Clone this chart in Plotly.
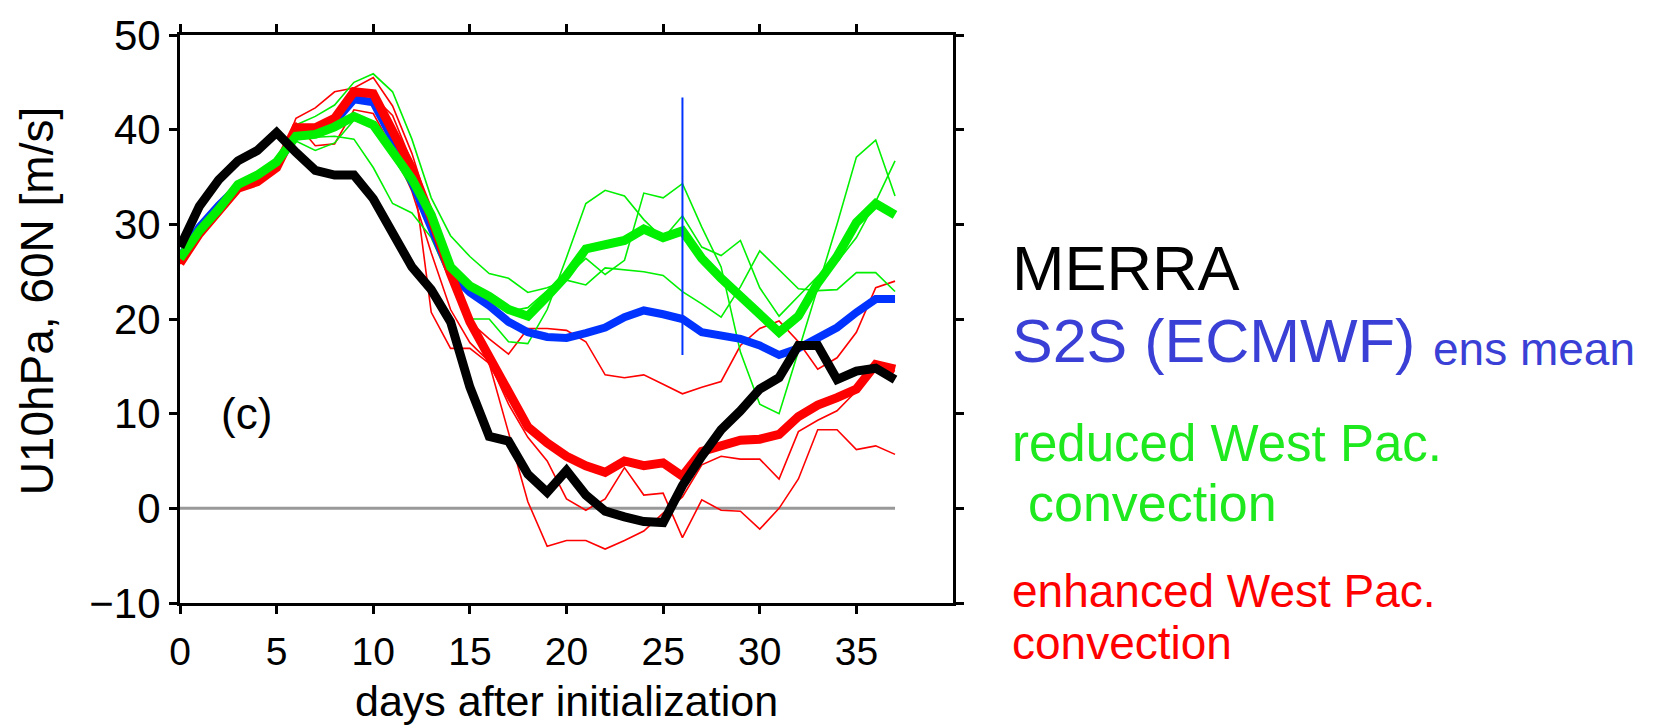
import plotly.graph_objects as go

# ---------------- data ----------------
days = list(range(38))

merra = [27.6, 31.9, 34.7, 36.7, 37.8, 39.7, 37.6, 35.7, 35.2, 35.2,
         32.7, 29.0, 25.5, 23.1, 19.7, 12.8, 7.6, 7.1, 3.6, 1.7,
         4.0, 1.4, -0.3, -0.9, -1.4, -1.5, 2.4, 5.5, 8.3, 10.3,
         12.6, 13.8, 17.2, 17.2, 13.6, 14.5, 14.8, 13.6]

ens_mean = [26.5, 29.7, 32.0, 34.0, 35.0, 36.2, 39.6, 39.8, 40.8, 43.2,
            42.9, 39.0, 34.5, 29.5, 24.8, 22.8, 21.4, 19.7, 18.6, 18.1,
            18.0, 18.5, 19.1, 20.2, 20.9, 20.5, 20.0, 18.6, 18.3, 17.9,
            17.2, 16.2, 16.9, 17.9, 19.1, 20.7, 22.1, 22.1]

reduced_mean = [26.4, 29.3, 31.6, 34.2, 35.2, 36.6, 39.3, 39.5, 40.3, 41.4,
                40.5, 37.6, 34.8, 31.0, 25.5, 23.5, 22.4, 21.0, 20.3, 22.4,
                24.6, 27.4, 27.9, 28.3, 29.5, 28.6, 29.3, 26.4, 24.3, 22.4,
                20.5, 18.6, 20.3, 23.8, 26.6, 30.2, 32.2, 31.0]

enhanced_mean = [25.9, 29.0, 31.4, 33.8, 34.5, 36.0, 40.2, 40.2, 41.2, 44.0,
                 43.8, 40.0, 35.9, 30.7, 24.8, 19.7, 15.9, 12.4, 8.6, 6.9,
                 5.5, 4.5, 3.8, 5.0, 4.5, 4.8, 3.4, 6.0, 6.6, 7.2,
                 7.3, 7.8, 9.7, 10.9, 11.7, 12.6, 15.2, 14.7]

reduced_m1 = [26.0, 29.0, 31.5, 33.8, 35.0, 36.6, 40.5, 41.4, 42.6, 45.0,
              45.9, 44.0, 39.0, 32.8, 28.8, 26.6, 24.8, 24.3, 22.8, 23.3,
              24.1, 23.6, 25.4, 25.2, 25.0, 24.6, 22.9, 21.6, 20.2, 23.4,
              27.2, 25.2, 23.2, 23.0, 23.1, 24.9, 24.9, 22.9]
reduced_m2 = [26.8, 29.6, 31.9, 34.0, 35.3, 36.4, 39.3, 39.2, 39.3, 39.0,
              36.0, 32.2, 31.2, 28.6, 24.0, 20.0, 20.0, 17.6, 17.4, 21.0,
              26.5, 32.2, 33.6, 33.0, 30.5, 28.5, 30.9, 27.6, 26.7, 28.3,
              23.3, 20.3, 22.4, 24.5, 26.0, 28.6, 32.4, 36.7]
reduced_m3 = [26.3, 29.2, 31.3, 33.6, 34.9, 36.0, 38.8, 37.8, 38.6, 41.0,
              40.3, 37.2, 33.8, 30.0, 25.8, 23.2, 21.8, 20.8, 21.2, 23.0,
              24.5, 26.4, 24.7, 26.2, 33.3, 32.8, 34.3, 29.7, 25.5, 16.5,
              11.0, 10.0, 16.6, 23.4, 30.0, 37.1, 38.9, 33.0]

enhanced_m1 = [25.8, 29.0, 31.6, 34.0, 34.7, 36.0, 41.2, 42.3, 44.0, 44.4,
               45.5, 42.5, 37.5, 31.0, 24.5, 19.7, 17.9, 16.3, 19.0, 19.0,
               18.8, 17.6, 14.1, 13.8, 14.1, 13.1, 12.1, 12.8, 13.4, 17.2,
               19.0, 19.8, 17.6, 14.7, 15.9, 18.6, 23.3, 24.0]
enhanced_m2 = [26.0, 29.2, 31.2, 33.7, 34.4, 35.7, 40.7, 38.3, 38.5, 42.1,
               41.7, 38.0, 33.5, 27.0, 21.0, 17.5, 15.5, 11.0, 7.5, 5.0,
               1.0, -0.2, 1.0, 4.3, 1.4, 1.6, -3.1, 0.9, -0.2, -0.3,
               -2.2, 0.0, 3.1, 8.3, 8.3, 6.2, 6.6, 5.7]
enhanced_m3 = [25.9, 28.9, 31.5, 34.2, 34.8, 36.1, 40.0, 40.5, 41.5, 43.5,
               43.5, 41.5, 36.5, 20.7, 16.9, 16.9, 15.3, 8.0, 0.7, -4.0,
               -3.4, -3.4, -4.3, -3.4, -2.4, -0.5, 1.2, 4.6, 5.5, 5.2,
               5.2, 3.1, 8.1, 9.3, 10.3, 12.4, 15.0, 14.5]

spread_day = 26
spread_range = [16.2, 43.4]

x_ticks = [0, 5, 10, 15, 20, 25, 30, 35]
y_ticks = [-10, 0, 10, 20, 30, 40, 50]

# ---------------- styling ----------------
FONT = "Liberation Sans, Arial, Helvetica, sans-serif"
RED = "#ff0000"
GREEN = "#00f000"
TXT_GREEN = "#1ee81e"
BLUE = "#0033ff"
LEG_BLUE = "#3a3fd6"

W, H = 1656, 728
L, R, T, B = 180, 703, 23, 125

fig = go.Figure()

# zero line
fig.add_trace(go.Scatter(x=[days[0], days[-1]], y=[0, 0], mode="lines",
                         line=dict(color="#999999", width=3), hoverinfo="skip"))

for m in (enhanced_m1, enhanced_m2, enhanced_m3):
    fig.add_trace(go.Scatter(x=days, y=m, mode="lines",
                             line=dict(color=RED, width=1.6)))
for m in (reduced_m1, reduced_m2, reduced_m3):
    fig.add_trace(go.Scatter(x=days, y=m, mode="lines",
                             line=dict(color=GREEN, width=1.6)))

fig.add_trace(go.Scatter(x=days, y=ens_mean, mode="lines",
                         line=dict(color=BLUE, width=8)))
fig.add_trace(go.Scatter(x=days, y=enhanced_mean, mode="lines",
                         line=dict(color=RED, width=9)))
fig.add_trace(go.Scatter(x=days, y=reduced_mean, mode="lines",
                         line=dict(color=GREEN, width=9)))
fig.add_trace(go.Scatter(x=days, y=merra, mode="lines",
                         line=dict(color="black", width=9)))

# ensemble spread marker
fig.add_trace(go.Scatter(x=[spread_day, spread_day], y=spread_range, mode="lines",
                         line=dict(color=BLUE, width=2)))

axis_common = dict(showline=True, linecolor="black", linewidth=3, mirror="ticks",
                   ticks="outside", ticklen=8, tickwidth=3, tickcolor="black",
                   showgrid=False, zeroline=False, ticklabeloverflow="allow")

fig.update_xaxes(range=[0, 40], tickvals=x_ticks, ticktext=[str(v) for v in x_ticks],
                 ticklabelstandoff=4,
                 tickfont=dict(family=FONT, size=39, color="black"), **axis_common)
fig.update_yaxes(range=[-10, 50], tickvals=y_ticks,
                 tickfont=dict(family=FONT, size=42, color="black"), **axis_common)

def px_x(p):
    return (p - L) / (W - L - R)

def px_y(p):
    return (H - B - p) / (H - T - B)

annotations = [
    dict(text="days after initialization", x=0.5, xref="paper", y=px_y(703), yref="paper",
         font=dict(size=43, color="black")),
    dict(text="U10hPa, 60N [m/s]", x=px_x(37), xref="paper", y=px_y(295), yref="paper",
         textangle=-90, font=dict(size=46, color="black")),
    dict(text="(c)", x=px_x(219), xref="paper", y=px_y(410), yref="paper",
         xanchor="left", font=dict(size=44, color="black")),
    dict(text="MERRA", x=px_x(1010), xref="paper", y=px_y(261), yref="paper",
         xanchor="left", font=dict(size=63, color="black")),
    dict(text="S2S (ECMWF)", x=px_x(1010), xref="paper", y=px_y(335), yref="paper",
         xanchor="left", font=dict(size=61, color=LEG_BLUE)),
    dict(text="ens mean", x=px_x(1431), xref="paper", y=px_y(344), yref="paper",
         xanchor="left", font=dict(size=46, color=LEG_BLUE)),
    dict(text="reduced West Pac.", x=px_x(1010), xref="paper", y=px_y(440), yref="paper",
         xanchor="left", font=dict(size=51, color=TXT_GREEN)),
    dict(text="convection", x=px_x(1026), xref="paper", y=px_y(501), yref="paper",
         xanchor="left", font=dict(size=52, color=TXT_GREEN)),
    dict(text="enhanced West Pac.", x=px_x(1010), xref="paper", y=px_y(591), yref="paper",
         xanchor="left", font=dict(size=46, color=RED)),
    dict(text="convection", x=px_x(1010), xref="paper", y=px_y(644), yref="paper",
         xanchor="left", font=dict(size=46, color=RED)),
]
for a in annotations:
    a.setdefault("xanchor", "center")
    a["yanchor"] = "middle"
    a["showarrow"] = False
    a["font"]["family"] = FONT

fig.update_layout(width=W, height=H, margin=dict(l=L, r=R, t=T, b=B),
                  paper_bgcolor="white", plot_bgcolor="white",
                  showlegend=False, annotations=annotations,
                  font=dict(family=FONT, color="black"))

fig.write_html("out.html")
